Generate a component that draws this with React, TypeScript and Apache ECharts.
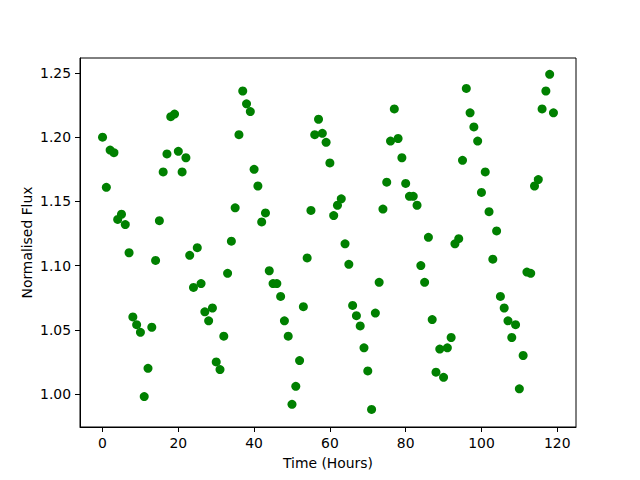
import React, { useEffect, useRef } from 'react';
import * as echarts from 'echarts';

const hours = [
  0, 1, 2, 3, 4, 5, 6, 7, 8, 9, 10, 11, 12, 13, 14, 15, 16, 17, 18, 19,
  20, 21, 22, 23, 24, 25, 26, 27, 28, 29, 30, 31, 32, 33, 34, 35, 36, 37, 38, 39,
  40, 41, 42, 43, 44, 45, 46, 47, 48, 49, 50, 51, 52, 53, 54, 55, 56, 57, 58, 59,
  60, 61, 62, 63, 64, 65, 66, 67, 68, 69, 70, 71, 72, 73, 74, 75, 76, 77, 78, 79,
  80, 81, 82, 83, 84, 85, 86, 87, 88, 89, 90, 91, 92, 93, 94, 95, 96, 97, 98, 99,
  100, 101, 102, 103, 104, 105, 106, 107, 108, 109, 110, 111, 112, 113, 114, 115, 116, 117, 118, 119,
];

const flux = [
  1.200, 1.161, 1.190, 1.188, 1.136, 1.140, 1.132, 1.110, 1.060, 1.054,
  1.048, 0.998, 1.020, 1.052, 1.104, 1.135, 1.173, 1.187, 1.216, 1.218,
  1.189, 1.173, 1.184, 1.108, 1.083, 1.114, 1.086, 1.064, 1.057, 1.067,
  1.025, 1.019, 1.045, 1.094, 1.119, 1.145, 1.202, 1.236, 1.226, 1.220,
  1.175, 1.162, 1.134, 1.141, 1.096, 1.086, 1.086, 1.076, 1.057, 1.045,
  0.992, 1.006, 1.026, 1.068, 1.106, 1.143, 1.202, 1.214, 1.203, 1.196,
  1.180, 1.139, 1.147, 1.152, 1.117, 1.101, 1.069, 1.061, 1.053, 1.036,
  1.018, 0.988, 1.063, 1.087, 1.144, 1.165, 1.197, 1.222, 1.199, 1.184,
  1.164, 1.154, 1.154, 1.147, 1.100, 1.087, 1.122, 1.058, 1.017, 1.035,
  1.013, 1.036, 1.044, 1.117, 1.121, 1.182, 1.238, 1.219, 1.208, 1.197,
  1.157, 1.173, 1.142, 1.105, 1.127, 1.076, 1.067, 1.057, 1.044, 1.054,
  1.004, 1.030, 1.095, 1.094, 1.162, 1.167, 1.222, 1.236, 1.249, 1.219,
];

const xTicks = [0, 20, 40, 60, 80, 100, 120];
const yTicks = [1.0, 1.05, 1.1, 1.15, 1.2, 1.25];

const X_LABEL = 'Time (Hours)';
const Y_LABEL = 'Normalised Flux';

export default function App() {
  const ref = useRef<HTMLDivElement>(null);
  useEffect(() => {
    const chart = echarts.init(ref.current!, null, { renderer: 'svg' });
    const font = 'DejaVu Sans';
    const textStyle = { fontFamily: font, fontSize: 13.9, color: '#000' };
    chart.setOption({
      animation: false,
      backgroundColor: '#fff',
      grid: {
        left: 80, right: 64, top: 58, bottom: 53,
        show: true, borderColor: '#000', borderWidth: 1, backgroundColor: 'transparent',
      },
      xAxis: {
        type: 'value', min: -5.95, max: 124.95,
        name: X_LABEL, nameLocation: 'middle', nameGap: 29,
        nameMoveOverlap: false,
        nameTextStyle: textStyle,
        axisLine: { show: true, onZero: false, lineStyle: { color: '#000', width: 1 } },
        axisTick: { show: true, inside: false, length: 5, lineStyle: { color: '#000', width: 1 }, customValues: xTicks },
        axisLabel: { customValues: xTicks, margin: 9, ...textStyle, formatter: (v: number) => String(v) },
        splitLine: { show: false },
      },
      yAxis: {
        type: 'value', min: 0.9743, max: 1.2617,
        name: Y_LABEL, nameLocation: 'middle', nameGap: 46,
        nameMoveOverlap: false,
        nameTextStyle: textStyle,
        axisLine: { show: true, onZero: false, lineStyle: { color: '#000', width: 1 } },
        axisTick: { show: true, inside: false, length: 5, lineStyle: { color: '#000', width: 1 }, customValues: yTicks },
        axisLabel: { customValues: yTicks, margin: 9, ...textStyle, formatter: (v: number) => v.toFixed(2) },
        splitLine: { show: false },
      },
      series: [
        {
          type: 'scatter',
          data: hours.map((h, i) => [h, flux[i]]),
          symbol: 'circle',
          symbolSize: 9,
          itemStyle: { color: '#008000', opacity: 1 },
        },
      ],
    });
    return () => chart.dispose();
  }, []);
  return (
    <div
      ref={ref}
      style={{ position: 'fixed', left: 0, top: 0, width: 640, height: 480, background: '#fff' }}
    />
  );
}
